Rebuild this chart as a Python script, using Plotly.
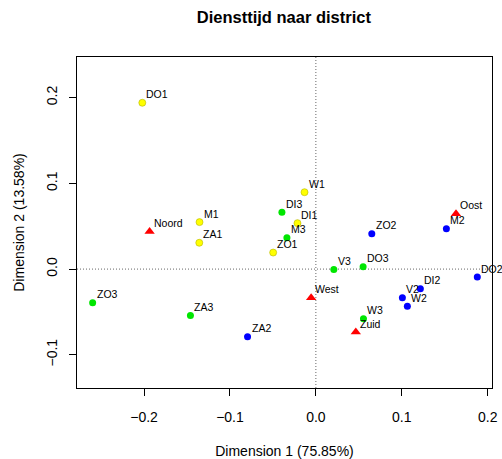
import plotly.graph_objects as go

# Column points: service-time categories per district
yellow_labels = ["DO1", "M1", "ZA1", "ZO1", "W1", "DI1"]
yellow_x = [-0.202, -0.1354, -0.1357, -0.0497, -0.0132, -0.0214]
yellow_y = [0.194, 0.0548, 0.0307, 0.0193, 0.0897, 0.0536]

blue_labels = ["ZO2", "M2", "DO2", "DI2", "V2", "W2", "ZA2"]
blue_x = [0.0651, 0.1519, 0.1879, 0.1216, 0.1007, 0.1065, -0.0795]
blue_y = [0.0411, 0.0470, -0.0093, -0.0230, -0.0335, -0.0432, -0.0789]

green_labels = ["DI3", "M3", "V3", "DO3", "W3", "ZO3", "ZA3"]
green_x = [-0.0395, -0.0337, 0.0209, 0.0550, 0.0554, -0.2598, -0.1460]
green_y = [0.0664, 0.0365, -0.0005, 0.0027, -0.0580, -0.0393, -0.0540]

# Row points: districts
district_labels = ["Noord", "Oost", "West", "Zuid"]
district_x = [-0.1935, 0.1631, -0.0055, 0.0465]
district_y = [0.0438, 0.0645, -0.0335, -0.0734]

x_ticks = [-0.2, -0.1, 0.0, 0.1, 0.2]
y_ticks = [-0.1, 0.0, 0.1, 0.2]

FONT = "Liberation Sans, Arial, Helvetica, sans-serif"
label_font = dict(family=FONT, size=10.5, color="black")

fig = go.Figure()


def add_points(xs, ys, labels, color, symbol="circle", size=7, outline=None):
    fig.add_trace(go.Scatter(
        x=xs, y=ys, text=labels, mode="markers", cliponaxis=False,
        marker=dict(color=color, symbol=symbol, size=size,
                    line=dict(width=0.6 if outline else 0, color=outline or color)),
        showlegend=False, hoverinfo="text+x+y",
    ))
    # point labels sit just above and to the right of each point
    for xv, yv, lab in zip(xs, ys, labels):
        fig.add_annotation(x=xv, y=yv, text=lab, showarrow=False,
                           xanchor="left", yanchor="middle",
                           xshift=2, yshift=8.5, font=label_font)


add_points(yellow_x, yellow_y, yellow_labels, "#FFFF00", outline="#B5B500")
add_points(blue_x, blue_y, blue_labels, "#0000FF")
add_points(green_x, green_y, green_labels, "#00E600")
add_points(district_x, district_y, district_labels, "#FF0000",
           symbol="triangle-up", size=9)

# dotted reference lines through the origin
fig.add_shape(type="line", xref="x", yref="paper", x0=0, x1=0, y0=0, y1=1,
              line=dict(color="#666666", width=1, dash="1px,2px"), layer="below")
fig.add_shape(type="line", xref="paper", yref="y", x0=0, x1=1, y0=0, y1=0,
              line=dict(color="#666666", width=1, dash="1px,2px"), layer="below")

axis_common = dict(
    showgrid=False, zeroline=False, showline=True, mirror=True,
    linecolor="black", linewidth=1, ticks="outside", ticklen=7,
    tickcolor="black", tickformat=".1f", automargin=False,
    tickfont=dict(family=FONT, size=14, color="black"),
)

fig.update_layout(
    width=502, height=459,
    margin=dict(l=77, r=10, t=57, b=71, autoexpand=False),
    paper_bgcolor="white", plot_bgcolor="white",
    title=dict(text="<b>Diensttijd naar district</b>", x=0.5655, xanchor="center",
               y=1 - 17 / 459, yanchor="middle",
               font=dict(family=FONT, size=16.5, color="black")),
    xaxis=dict(range=[-0.278, 0.205], tickvals=x_ticks,
               title=dict(text="Dimension 1 (75.85%)", standoff=22,
                          font=dict(family=FONT, size=14, color="black")),
               ticklabelstandoff=9, **axis_common),
    yaxis=dict(range=[-0.1387, 0.2474], tickvals=y_ticks, tickangle=-90,
               title=dict(text="Dimension 2 (13.58%)", standoff=16,
                          font=dict(family=FONT, size=14, color="black")),
               ticklabelstandoff=6, **axis_common),
)

fig.write_html("out.html")
